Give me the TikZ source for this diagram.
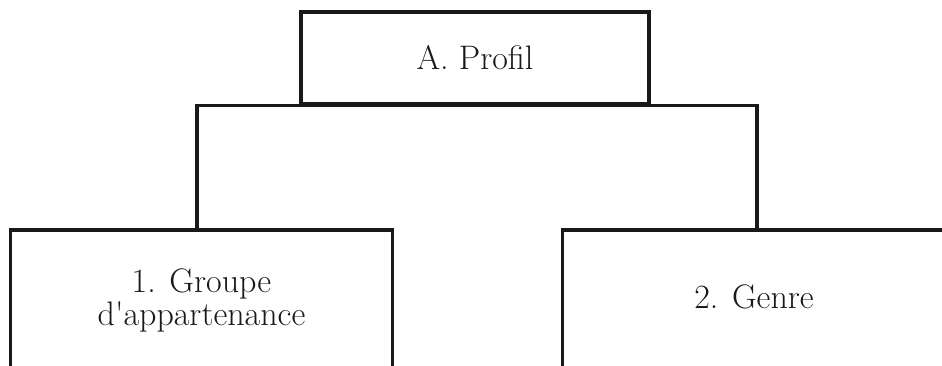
\documentclass[tikz,border=0pt]{standalone}
\usepackage{fontspec}
\begin{document}
\begin{tikzpicture}[x=1pt,y=-1pt,
  line/.style={draw=black!90, line width=3.3pt},
  boxtext/.style={font=\fontsize{34}{33}\selectfont, text=black!90, align=center, inner sep=0pt, minimum height=134pt},
]
\useasboundingbox (0,0) rectangle (942,366);
\clip (0,0) rectangle (942,366);
\node[boxtext, line, minimum width=348pt, minimum height=92pt] (A) at (475,58) {A. Profil};
\node[boxtext, anchor=north, minimum width=381pt, minimum height=140pt] (L) at (201.5,230) {1. Groupe\\d\textquotesingle appartenance};
\node[boxtext, anchor=north, minimum width=382pt] (R) at (754,230) {2. Genre};
\draw[line] ([yshift=-20pt]L.south west) -- (L.north west) -- (L.north east) -- ([yshift=-20pt]L.south east);
\draw[line] ([yshift=-20pt]R.south west) -- (R.north west) -- (R.north east) -- ([yshift=-20pt]R.south east);
\draw[line] ([xshift=-4.5pt]L.north) |- (A.south) -| ([xshift=3pt]R.north);
\end{tikzpicture}
\end{document}
